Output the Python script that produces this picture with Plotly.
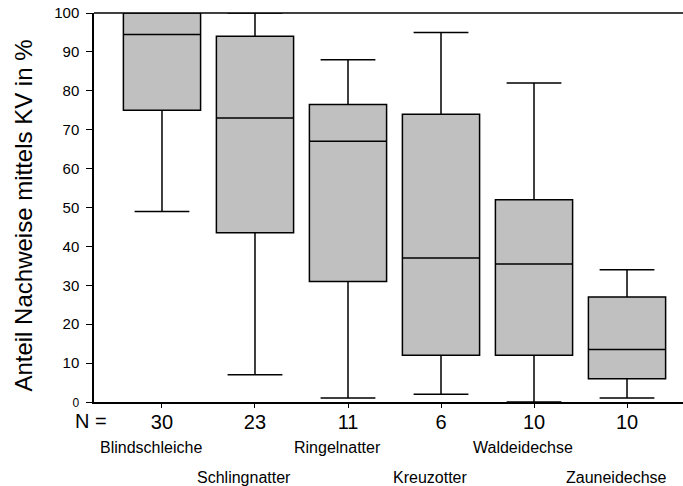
import plotly.graph_objects as go

# Reptile species and sample sizes
species = ["Blindschleiche", "Schlingnatter", "Ringelnatter",
           "Kreuzotter", "Waldeidechse", "Zauneidechse"]
n_values = [30, 23, 11, 6, 10, 10]

# Box statistics (percent detections via artificial cover)
lower_whisker = [49.0, 7.0, 1.0, 2.0, 0.0, 1.0]
q1 = [75.0, 43.5, 31.0, 12.0, 12.0, 6.0]
median = [94.5, 73.0, 67.0, 37.0, 35.5, 13.5]
q3 = [100.0, 94.0, 76.5, 74.0, 52.0, 27.0]
upper_whisker = [100.0, 100.0, 88.0, 95.0, 82.0, 34.0]

y_ticks = list(range(0, 101, 10))

positions = list(range(len(species)))

fig = go.Figure()
fig.add_trace(go.Box(
    x=positions,
    q1=q1, median=median, q3=q3,
    lowerfence=lower_whisker, upperfence=upper_whisker,
    fillcolor="#c0c0c0",
    line=dict(color="black", width=1.5),
    width=0.83,
    whiskerwidth=0.71,
    boxpoints=False,
    hoverinfo="skip",
    showlegend=False,
))

font_family = "Liberation Sans, Arial, sans-serif"

y_ticktext = ["<span style='font-size:12px'>0</span>"] + [str(v) for v in y_ticks[1:]]

fig.update_layout(
    width=683, height=486,
    margin=dict(l=94, r=0, t=13, b=84),
    paper_bgcolor="white", plot_bgcolor="white",
    font=dict(family=font_family, color="black"),
    xaxis=dict(
        range=[-0.731, 5.602],
        tickmode="array", tickvals=positions,
        ticktext=[str(n) for n in n_values],
        tickfont=dict(size=20),
        ticks="outside", ticklen=4, tickcolor="black", tickwidth=1,
        ticklabelstandoff=-3,
        showline=True, linecolor="black", linewidth=1.5,
        showgrid=False, zeroline=False,
    ),
    yaxis=dict(
        range=[0, 100],
        tickmode="array", tickvals=y_ticks, ticktext=y_ticktext,
        tickfont=dict(size=15),
        ticks="outside", ticklen=6, tickcolor="black", tickwidth=1,
        ticklabelstandoff=4,
        showline=True, linecolor="black", linewidth=1.5,
        showgrid=False, zeroline=False,
    ),
)

# top frame line
fig.add_shape(type="line", xref="paper", yref="paper",
              x0=0, x1=1, y0=1, y1=1,
              line=dict(color="black", width=1.5))

# y-axis title
fig.add_annotation(x=-0.12, y=0.48, xref="paper", yref="paper",
                   text="Anteil Nachweise mittels KV in %", textangle=-90,
                   showarrow=False, font=dict(size=24),
                   xanchor="center", yanchor="middle")

# "N =" label left of the sample sizes
fig.add_annotation(x=-0.005, y=0, xref="paper", yref="paper",
                   text="N =", showarrow=False,
                   font=dict(size=20), xanchor="center",
                   yanchor="middle", yshift=-19)

# species names in two staggered rows
for i, name in enumerate(species):
    fig.add_annotation(x=positions[i], y=0, xref="x", yref="paper",
                       text=name, showarrow=False,
                       font=dict(size=16), xshift=-11,
                       yanchor="middle",
                       yshift=-45 if i % 2 == 0 else -75)

fig.write_html("out.html")
